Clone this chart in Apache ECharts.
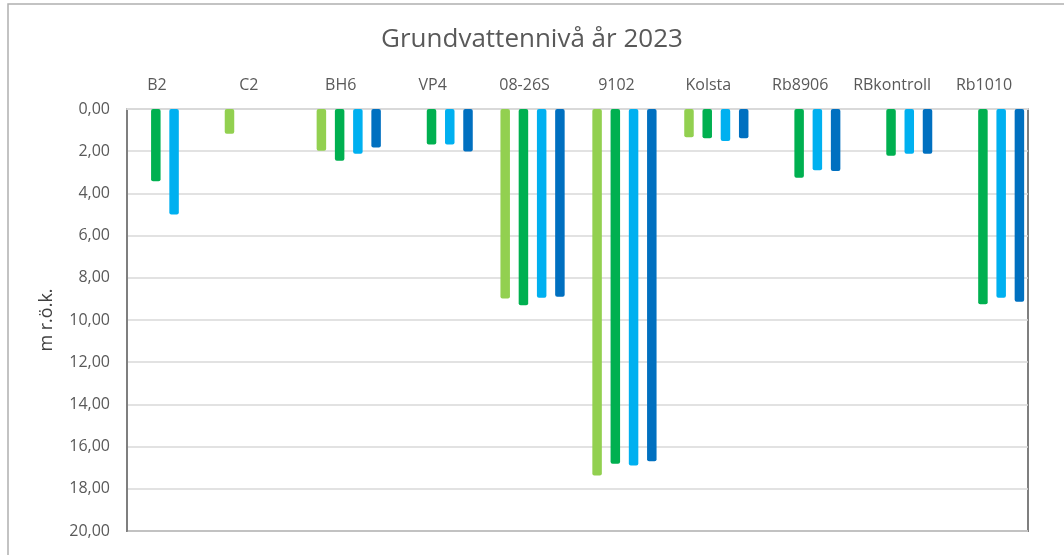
<!DOCTYPE html>
<html lang="sv">
<head>
    <meta charset="UTF-8">
    <title>Grundvattennivå år 2023</title>
    <script src="https://cdn.jsdelivr.net/npm/echarts@6/dist/echarts.min.js"></script>
</head>
<body style="margin:0;background:#fff;">
<div id="chart" style="width:1064px;height:555px;"></div>
<pre id="err" style="position:absolute;left:0;top:0;font-size:11px;color:#c00;margin:0;"></pre>
<script>
  // brunnar / mätpunkter
  var categories = ['B2', 'C2', 'BH6', 'VP4', '08-26S', '9102', 'Kolsta', 'Rb8906', 'RBkontroll', 'Rb1010'];

  // nivå under rörets överkant (m), fyra mätomgångar
  var serie1 = [null, 1.17, 1.98, null, 8.98, 17.37, 1.34, null, null, null];
  var serie2 = [3.42, null, 2.45, 1.68, 9.30, 16.81, 1.39, 3.26, 2.21, 9.25];
  var serie3 = [5.00, null, 2.12, 1.68, 8.94, 16.89, 1.52, 2.90, 2.12, 8.94];
  var serie4 = [null, null, 1.82, 2.02, 8.90, 16.70, 1.39, 2.94, 2.12, 9.14];

  var seriesNames = ['Serie1', 'Serie2', 'Serie3', 'Serie4'];
  var colors = ['#92D050', '#00B050', '#00B0F0', '#0070C0'];

  var font = "'Open Sans', 'Noto Sans', sans-serif";
  var chart = echarts.init(document.getElementById('chart'));

  function makeBar(i, data) {
    return {
      name: seriesNames[i],
      type: 'bar',
      xAxisIndex: 1,
      yAxisIndex: 1,
      data: data,
      barWidth: 9.5,
      barGap: '92%',
      itemStyle: {color: colors[i], borderRadius: 2}
    };
  }

  var option = {
    animation: false,
    title: {
      text: 'Grundvattennivå år 2023',
      left: 'center',
      top: 22,
      padding: [5, 5, 5, 15],
      textStyle: {fontFamily: font, fontSize: 26, fontWeight: 'normal', color: '#595959'}
    },
    grid: [
      // ramen: y-axel och stödlinjer
      {left: 127, right: 36, top: 109, bottom: 24, show: true, borderColor: '#7f7f7f', borderWidth: 2},
      // staplarna (något bredare än ramen, som i originalet)
      {left: 119, right: 26, top: 109, bottom: 24}
    ],
    xAxis: [{
      gridIndex: 0,
      type: 'category',
      data: categories,
      position: 'top',
      axisLine: {lineStyle: {color: '#d9d9d9', width: 2}},
      axisTick: {show: false},
      axisLabel: {show: false}
    }, {
      gridIndex: 1,
      type: 'category',
      data: categories,
      position: 'top',
      axisLine: {show: false},
      axisTick: {show: false},
      axisLabel: {
        interval: 0,
        margin: 16,
        padding: [0, 16, 0, 0],
        fontFamily: font,
        fontSize: 16,
        color: '#595959'
      }
    }],
    yAxis: [{
      gridIndex: 0,
      type: 'value',
      inverse: true,
      min: 0,
      max: 20,
      interval: 2,
      name: 'm r.ö.k.',
      nameLocation: 'middle',
      nameGap: 71,
      nameTextStyle: {fontFamily: font, fontSize: 18, color: '#404040'},
      axisLine: {show: true, lineStyle: {color: '#7f7f7f', width: 2}},
      axisTick: {show: false},
      axisLabel: {
        margin: 17,
        fontFamily: font,
        fontSize: 16,
        color: '#595959',
        formatter: function (v) {
          return v.toFixed(2).replace('.', ',');
        }
      },
      splitLine: {lineStyle: {color: '#d9d9d9', width: 1.5}}
    }, {
      gridIndex: 1,
      type: 'value',
      inverse: true,
      min: 0,
      max: 20,
      show: false
    }],
    series: [
      makeBar(0, serie1),
      makeBar(1, serie2),
      makeBar(2, serie3),
      makeBar(3, serie4)
    ]
  };

  try {
    chart.setOption(option);
  } catch (e) {
    document.getElementById('err').textContent = e.stack;
  }

  // ram runt hela diagrammet
  var zr = chart.getZr();
  zr.add(new echarts.graphic.Rect({
    shape: {x: 8, y: 4, width: 1100, height: 600},
    style: {fill: 'none', stroke: '#b0b0b0', lineWidth: 1.5},
    silent: true
  }));
</script>
</body>
</html>
